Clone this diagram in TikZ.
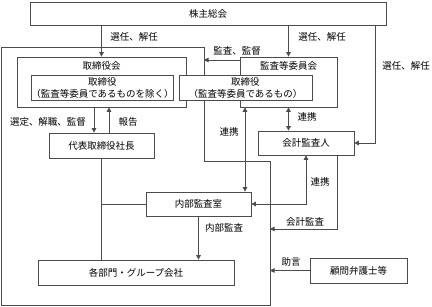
\documentclass[tikz,border=0pt]{standalone}
\usepackage{fontspec}
\setmainfont{Noto Sans CJK JP}
\usetikzlibrary{positioning, arrows.meta}
\newcommand{\jpsize}{\fontsize{9.5}{12}\selectfont}

\begin{document}
\begin{tikzpicture}[x=1pt, y=-1pt,
  line/.style={draw=black!70, line width=0.7pt},
  box/.style={line, fill=white, inner sep=0pt, align=center, font=\jpsize},
  lbl/.style={font=\jpsize, inner sep=0pt},
  arr/.style={line, -{Triangle[length=4.5pt,width=4.5pt]}},
  dbl/.style={line, {Triangle[length=4.5pt,width=4.5pt]}-{Triangle[length=4.5pt,width=4.5pt]}},
]
\useasboundingbox (0,0) rectangle (432,306);

% company boundary
\draw[line] (1,47) -- (204,47) -- (204,161) -- (270,161) -- (270,305) -- (1,305) -- cycle;

\node[box, minimum width=356pt, minimum height=23pt] (soukai) at (208,13.5) {株主総会};
\node[box, minimum width=169pt, minimum height=50pt] (torikai) at (101.5,82) {};
\node[lbl] (torikaiT) at (101.5,66) {取締役会};
\node[box, minimum width=97pt, minimum height=50pt] (kansakai) at (288.5,82) {};
\node[lbl] (kansakaiT) at (288.5,66) {監査等委員会};
\node[box, minimum width=141pt, minimum height=25pt] (tori1) at (102.5,87.5)
  {取締役\\（監査等委員であるものを除く）};
\node[box, minimum width=133pt, minimum height=25pt] (tori2) at (245.5,87.5)
  {取締役\\（監査等委員であるもの）};
\node[box, minimum width=105pt, minimum height=25pt] (daihyo) at (101.5,145.5) {代表取締役社長};
\node[box, minimum width=96pt, minimum height=24pt] (kaikei) at (306,143) {会計監査人};
\node[box, minimum width=105pt, minimum height=24pt] (naibu) at (198.5,204) {内部監査室};
\node[box, minimum width=196pt, minimum height=25pt] (kakubu) at (136,272.5) {各部門・グループ会社};
\node[box, minimum width=97pt, minimum height=25pt] (komon) at (358.5,270.5) {顧問弁護士等};

\coordinate (senR) at (375,0);
\coordinate (bdA) at (204,60);
\coordinate (dn) at (94,0);
\coordinate (up) at (109,0);
\coordinate (renL) at (245,0);
\coordinate (kaR) at (337,0);
\coordinate (bdK) at (270,229);
\coordinate (bdJ) at (270,0);

% election
\draw[arr] (soukai.south -| torikai.north) -- (torikai.north);
\draw[arr] (soukai.south -| kansakai.north) -- (kansakai.north);
\draw[arr] (soukai.south -| senR) |- (kaikei.east);
\node[lbl] at (134,37) {選任、解任};
\node[lbl] at (322,37) {選任、解任};
\node[lbl] at (406,66) {選任、解任};

% audit and supervision
\draw[arr] (kansakai.west |- bdA) -- (bdA);
\node[lbl] at (237,51) {監査、監督};

% board and president
\draw[arr] (torikai.south -| dn) -- (daihyo.north -| dn);
\draw[arr] (daihyo.north -| up) -- (torikai.south -| up);
\node[lbl] at (48,122) {選定、解職、監督};
\node[lbl] at (128,122) {報告};

% cooperation
\draw[dbl] (kansakai.south) -- (kansakai.south |- kaikei.north);
\node[lbl] at (307,117) {連携};
\draw[dbl] (kansakai.south -| renL) -- (naibu.north -| renL);
\node[lbl] at (229,132) {連携};
\draw[dbl] (naibu.east) -| (kaikei.south);
\node[lbl] at (320,182) {連携};

% accounting audit
\draw[arr] (kaikei.south -| kaR) |- (bdK);
\node[lbl] at (305,222) {会計監査};

% internal audit
\draw[line] (daihyo.south) -- (daihyo.south |- kakubu.north);
\draw[line] (daihyo.south |- naibu.west) -- (naibu.west);
\draw[arr] (naibu.south) -- (naibu.south |- kakubu.north);
\node[lbl] at (224,228) {内部監査};

% advice
\draw[arr] (komon.west) -- (komon.west -| bdJ);
\node[lbl] at (291,262) {助言};
\end{tikzpicture}
\end{document}
